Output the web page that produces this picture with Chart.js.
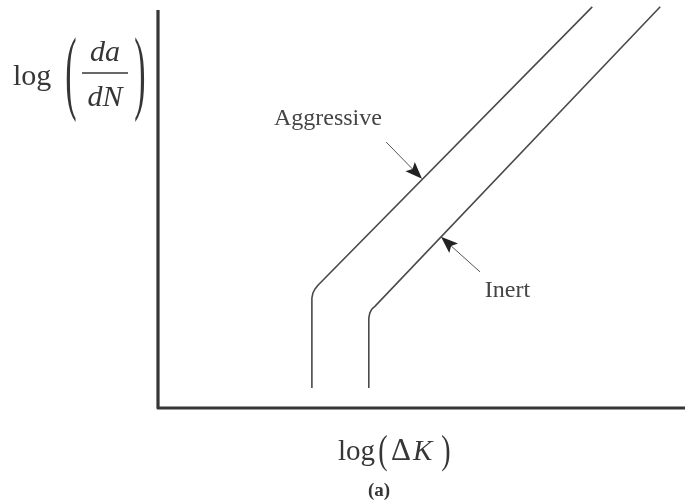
<!DOCTYPE html>
<html>
<head>
<meta charset="utf-8">
<script src="https://cdn.jsdelivr.net/npm/chart.js@4"></script>
<style>
  html, body { margin: 0; padding: 0; background: #fff; }
  #wrap { width: 685px; height: 504px; }
</style>
</head>
<body>
<div id="wrap"><canvas id="crack" width="685" height="504"></canvas></div>
<script>
// crack growth rate vs stress intensity range, both in arbitrary log units (0..10)
const seriesNames = ["Aggressive", "Inert"];
const aggressiveK    = [2.92, 2.92, 2.94, 2.98, 3.04, 8.24];
const aggressiveRate = [0.50, 2.76, 2.89, 2.99, 3.09, 10.08];
const inertK         = [4.00, 4.00, 4.02, 4.06, 4.12, 9.53];
const inertRate      = [0.50, 2.26, 2.39, 2.49, 2.56, 10.08];

// callouts: text anchor, arrow tail, arrow tip (data units)
const calloutText = [[2.20, 7.11], [6.20, 2.79]];
const arrowTail   = [[4.33, 6.68], [6.11, 3.42]];
const arrowTip    = [[5.01, 5.76], [5.37, 4.30]];

const toPoints = (xs, ys) => xs.map((v, i) => ({ x: v, y: ys[i] }));

const INK = "#363636";
const SERIF = '"Liberation Serif", "DejaVu Serif", serif';

function stretchedGlyph(ctx, ch, cx, cy, size, sy) {
    ctx.save();
    ctx.translate(cx, cy);
    ctx.scale(1, sy);
    ctx.font = size + "px " + SERIF;
    ctx.textAlign = "center";
    ctx.textBaseline = "middle";
    ctx.fillText(ch, 0, 0);
    ctx.restore();
}

function arrow(ctx, x0, y0, x1, y1) {
    const a = Math.atan2(y1 - y0, x1 - x0);
    const len = 17, half = 6.5;
    const c = Math.cos(a), s = Math.sin(a);
    ctx.beginPath();
    ctx.moveTo(x0, y0);
    ctx.lineTo(x1 - c * len * 0.8, y1 - s * len * 0.8);
    ctx.lineWidth = 1;
    ctx.strokeStyle = "#555";
    ctx.stroke();
    ctx.beginPath();
    ctx.moveTo(x1, y1);
    ctx.lineTo(x1 - c * len + s * half, y1 - s * len - c * half);
    ctx.lineTo(x1 - c * len * 0.8, y1 - s * len * 0.8);
    ctx.lineTo(x1 - c * len - s * half, y1 - s * len + c * half);
    ctx.closePath();
    ctx.fillStyle = "#222";
    ctx.fill();
}

const sketchPlugin = {
    id: "sketch",
    beforeDatasetsDraw(chart) {
        const { ctx, chartArea } = chart;
        // L-shaped axes
        ctx.save();
        ctx.beginPath();
        ctx.moveTo(chartArea.left, chartArea.top);
        ctx.lineTo(chartArea.left, chartArea.bottom);
        ctx.lineTo(chartArea.right, chartArea.bottom);
        ctx.lineWidth = 3.2;
        ctx.lineJoin = "round";
        ctx.strokeStyle = INK;
        ctx.stroke();
        ctx.restore();
    },
    afterDatasetsDraw(chart) {
        const { ctx, scales: { x, y } } = chart;
        ctx.save();

        // callouts
        ctx.font = "24px " + SERIF;
        ctx.textAlign = "left";
        ctx.textBaseline = "alphabetic";
        seriesNames.forEach((name, i) => {
            ctx.fillStyle = "#444";
            ctx.fillText(name, x.getPixelForValue(calloutText[i][0]), y.getPixelForValue(calloutText[i][1]));
            arrow(ctx,
                x.getPixelForValue(arrowTail[i][0]), y.getPixelForValue(arrowTail[i][1]),
                x.getPixelForValue(arrowTip[i][0]), y.getPixelForValue(arrowTip[i][1]));
        });

        // y axis title: log(da/dN)
        ctx.fillStyle = INK;
        ctx.font = "30px " + SERIF;
        ctx.textAlign = "left";
        ctx.fillText("log", 13, 85);
        stretchedGlyph(ctx, "(", 71, 77, 34, 2.75);
        stretchedGlyph(ctx, ")", 140, 77, 34, 2.75);
        ctx.font = "italic 30px " + SERIF;
        ctx.textAlign = "center";
        ctx.fillText("da", 105, 61);
        ctx.fillText("dN", 105, 106);
        ctx.beginPath();
        ctx.moveTo(82, 73);
        ctx.lineTo(128, 73);
        ctx.lineWidth = 1.5;
        ctx.strokeStyle = INK;
        ctx.stroke();

        // x axis title: log(ΔK)
        ctx.textAlign = "left";
        ctx.font = "29px " + SERIF;
        ctx.fillText("log", 338, 460);
        stretchedGlyph(ctx, "(", 383, 452, 28, 1.45);
        ctx.font = "31px " + SERIF;
        ctx.textAlign = "left";
        ctx.fillText("\u0394", 391, 460);
        ctx.font = "italic 29px " + SERIF;
        ctx.fillText("K", 413, 460);
        stretchedGlyph(ctx, ")", 446, 452, 28, 1.45);

        ctx.font = "bold 19px " + SERIF;
        ctx.textAlign = "center";
        ctx.fillText("(a)", 379, 496);
        ctx.restore();
    }
};

new Chart(document.getElementById("crack"), {
    type: "scatter",
    data: {
        datasets: [
            { label: seriesNames[0], data: toPoints(aggressiveK, aggressiveRate) },
            { label: seriesNames[1], data: toPoints(inertK, inertRate) }
        ].map(d => Object.assign(d, {
            showLine: true,
            borderColor: "#4a4a4a",
            borderWidth: 1.6,
            pointRadius: 0,
            tension: 0,
            clip: false
        }))
    },
    options: {
        responsive: false,
        animation: false,
        devicePixelRatio: 1,
        layout: { padding: { left: 158, top: 10, right: 0, bottom: 96 } },
        plugins: { legend: { display: false }, tooltip: { enabled: false } },
        scales: {
            x: { type: "linear", min: 0, max: 10, display: false },
            y: { type: "linear", min: 0, max: 10, display: false }
        }
    },
    plugins: [sketchPlugin]
});
</script>
</body>
</html>
